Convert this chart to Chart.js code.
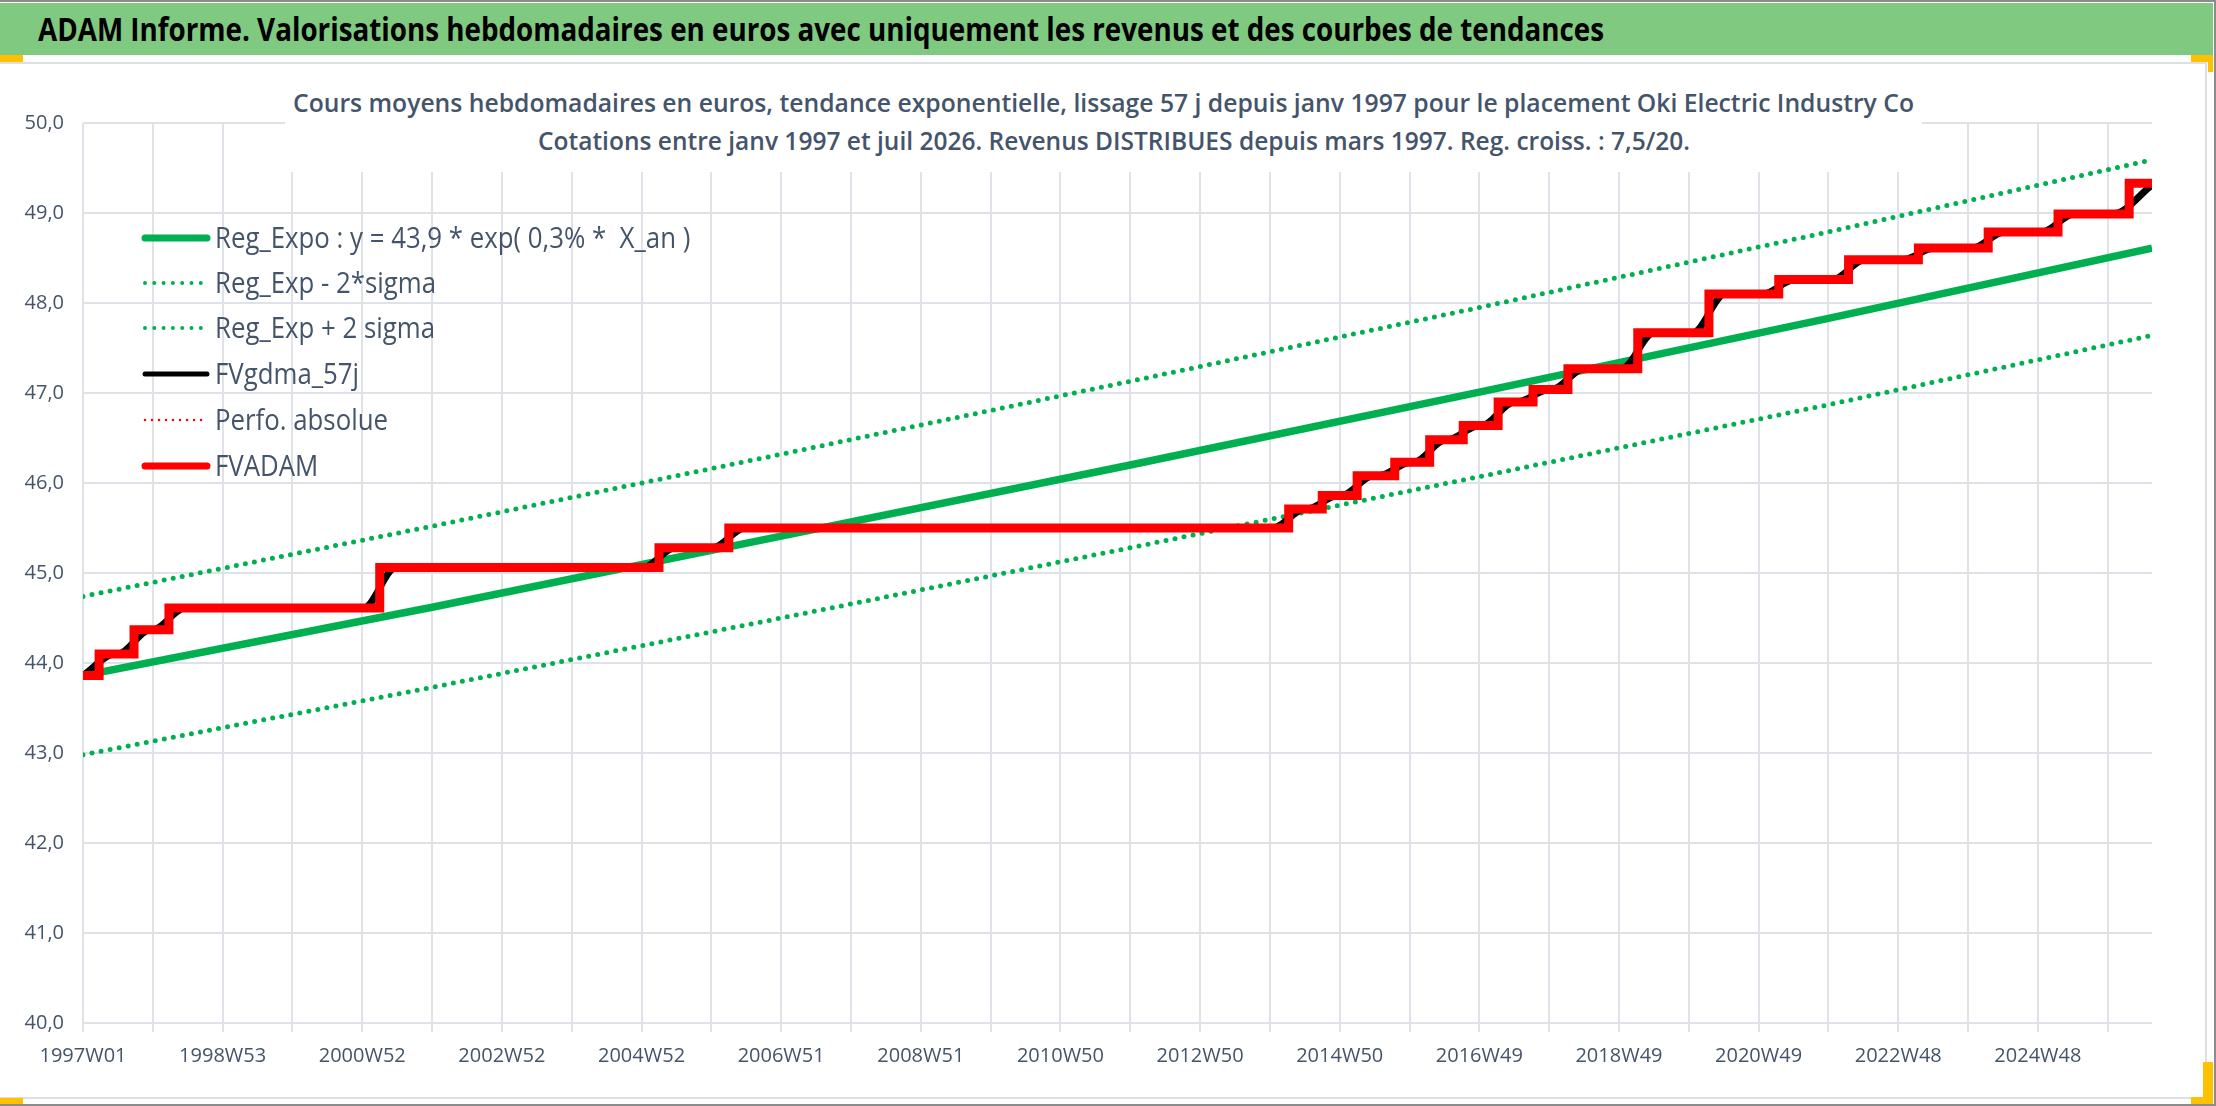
<!DOCTYPE html>
<html lang="fr">
<head>
<meta charset="utf-8">
<title>ADAM Informe - Oki Electric Industry Co</title>
<script src="https://cdn.jsdelivr.net/npm/chart.js@4.4.1/dist/chart.umd.min.js"></script>
<style>
  html, body { margin: 0; padding: 0; background: #fff; }
  #page { position: relative; width: 2216px; height: 1106px; overflow: hidden; background: #fff;
          font-family: 'Open Sans', sans-serif; }
  .frame { position: absolute; background: #8c8c8c; }
  .yel { position: absolute; background: #ffc000; }
  #header { position: absolute; left: 0; top: 3px; width: 2213px; height: 52px; background: #80c980; }
  #box { position: absolute; left: -2px; top: 62px; width: 2205px; height: 1033px;
         border: 2px solid #dcdfe4; }
  #chart { position: absolute; left: 0; top: 64px; }
  #subBox { position: absolute; left: 285px; top: 80px; width: 1637px; height: 92px; background: #fff; }
  .fit { position: absolute; white-space: nowrap; transform-origin: 0 50%; line-height: 1; }
  .head { font-weight: bold; font-size: 32px; color: #000; }
  .sub { font-weight: 600; font-size: 25px; color: #44546a; }
</style>
</head>
<body>
<div id="page">
  <div class="frame" style="left:0;top:0;width:2216px;height:2px"></div>
  <div class="frame" style="left:0;top:1104px;width:2216px;height:2px"></div>
  <div class="frame" style="left:2214px;top:0;width:2px;height:1106px"></div>
  <div id="header"></div>
  <div class="fit head" data-x0="38" data-x1="1604" data-y="29">ADAM Informe. Valorisations hebdomadaires en euros avec uniquement les revenus et des courbes de tendances</div>
  <div id="box"></div>
  <canvas id="chart" width="2203" height="1031"></canvas>
  <div id="subBox"></div>
  <div class="fit sub" data-x0="293" data-x1="1914" data-y="102">Cours moyens hebdomadaires en euros, tendance exponentielle, lissage 57 j depuis janv 1997 pour le placement Oki Electric Industry Co</div>
  <div class="fit sub" data-x0="538" data-x1="1690" data-y="140">Cotations entre janv 1997 et juil 2026. Revenus DISTRIBUES depuis mars 1997. Reg. croiss. : 7,5/20.</div>
  <div class="yel" style="left:0;top:55px;width:23px;height:7px"></div>
  <div class="yel" style="left:0;top:1098px;width:23px;height:6px"></div>
  <div class="yel" style="left:2191px;top:55px;width:22px;height:7px"></div>
  <div class="yel" style="left:2208px;top:62px;width:5px;height:10px"></div>
  <div class="yel" style="left:2203px;top:1062px;width:10px;height:36px"></div>
  <div class="yel" style="left:2191px;top:1097px;width:22px;height:7px"></div>
</div>
<script>
// semaines affichees sur l'axe (une etiquette toutes les 104 semaines)
const tickLabels = ['1997W01', '1998W53', '2000W52', '2002W52', '2004W52', '2006W51', '2008W51',
  '2010W50', '2012W50', '2014W50', '2016W49', '2018W49', '2020W49', '2022W48', '2024W48'];
const lastWeek = 1541;

// courbes de tendance (index de semaine depuis 1997W01)
const trendWeek = [0, 260, 520, 780, 1040, 1300, 1541];
const regExpo   = [43.86, 44.62, 45.41, 46.20, 47.01, 47.83, 48.61];
const regLower  = [42.98, 43.73, 44.50, 45.28, 46.07, 46.87, 47.64];
const regUpper  = [44.74, 45.52, 46.32, 47.13, 47.95, 48.79, 49.59];

// FVADAM : marches (semaine du saut, nouvelle valeur)
const stepWeek = [0, 12, 38, 64, 221, 429, 481, 898, 923, 949, 977, 1003, 1028, 1054,
  1080, 1106, 1158, 1211, 1263, 1315, 1367, 1419, 1471, 1524, 1541];
const fvAdam = [43.86, 44.10, 44.37, 44.61, 45.06, 45.28, 45.50, 45.71, 45.86, 46.08, 46.23, 46.48,
  46.64, 46.90, 47.04, 47.27, 47.67, 48.10, 48.26, 48.48, 48.61, 48.79, 48.99, 49.33, 49.33];

// FVgdma_57j : moyenne lissee autour de chaque marche
const smoothWeek = [0, 24, 26, 50, 52, 76, 209, 233, 417, 441, 469, 493, 886, 910, 911, 935,
  937, 961, 965, 989, 991, 1015, 1016, 1040, 1042, 1066, 1068, 1092, 1094, 1118, 1146, 1170,
  1199, 1223, 1251, 1275, 1303, 1327, 1355, 1379, 1407, 1431, 1459, 1483, 1512, 1541];
const fvGdma = [43.86, 44.10, 44.10, 44.37, 44.37, 44.61, 44.61, 45.06, 45.06, 45.28, 45.28, 45.50,
  45.50, 45.71, 45.71, 45.86, 45.86, 46.08, 46.08, 46.23, 46.23, 46.48, 46.48, 46.64, 46.64, 46.90,
  46.90, 47.04, 47.04, 47.27, 47.27, 47.67, 47.67, 48.10, 48.10, 48.26, 48.26, 48.48, 48.48, 48.61,
  48.61, 48.79, 48.79, 48.99, 48.99, 49.31];

const GREEN = '#00b050';
const RED = '#ff0000';
const GRID = '#dfe2e8';
const TXT = '#44546a';
const FONT = "'Open Sans', sans-serif";

let pts = (xs, ys) => xs.map((x, i) => ({ x: x, y: ys[i] }));

let gridWeeks = [];
tickLabels.forEach((lab, k) => { gridWeeks.push(k * 104, k * 104 + 52); });

// ajuste la largeur des titres HTML
document.querySelectorAll('.fit').forEach(function (el) {
  let x0 = +el.dataset.x0, x1 = +el.dataset.x1, yc = +el.dataset.y;
  let w = el.getBoundingClientRect().width;
  el.style.left = x0 + 'px';
  el.style.top = (yc - el.offsetHeight / 2) + 'px';
  el.style.transform = 'scaleX(' + ((x1 - x0) / w) + ')';
});

// legende dans le coin haut gauche du graphique
const legendRows = [174, 219, 264, 310, 356, 402];
const legendWidth = [7, 4, 4, 5, 2.5, 7];
const legendDash = [[], [0, 9.3], [0, 9.3], [], [0, 7], []];

const cornerLegend = {
  id: 'cornerLegend',
  afterDraw(chart) {
    let ctx = chart.ctx;
    chart.data.datasets.forEach(function (ds, i) {
      let y = legendRows[i];
      ctx.save();
      ctx.strokeStyle = ds.borderColor;
      ctx.lineWidth = legendWidth[i];
      ctx.lineCap = 'round';
      ctx.setLineDash(legendDash[i]);
      ctx.beginPath();
      ctx.moveTo(145, y);
      ctx.lineTo(207, y);
      ctx.stroke();
      ctx.restore();

      ctx.save();
      ctx.fillStyle = TXT;
      ctx.font = '30px ' + FONT;
      ctx.textBaseline = 'middle';
      ctx.translate(215, y + 1);
      ctx.scale(0.86, 1);
      ctx.fillText(ds.label, 0, 0);
      ctx.restore();
    });
  }
};

new Chart(document.getElementById('chart'), {
  type: 'line',
  data: {
    datasets: [
      { label: 'Reg_Expo : y = 43,9 * exp( 0,3% *  X_an )', data: pts(trendWeek, regExpo),
        borderColor: GREEN, borderWidth: 7.5, order: 3 },
      { label: 'Reg_Exp - 2*sigma', data: pts(trendWeek, regLower),
        borderColor: GREEN, borderWidth: 5, borderDash: [0, 9.2], borderCapStyle: 'round', order: 4 },
      { label: 'Reg_Exp + 2 sigma', data: pts(trendWeek, regUpper),
        borderColor: GREEN, borderWidth: 5, borderDash: [0, 9.2], borderCapStyle: 'round', order: 5 },
      { label: 'FVgdma_57j', data: pts(smoothWeek, fvGdma),
        borderColor: '#000000', borderWidth: 7, cubicInterpolationMode: 'monotone', order: 2 },
      { label: 'Perfo. absolue', data: pts(stepWeek, fvAdam),
        borderColor: RED, borderWidth: 2.5, borderDash: [0, 7], borderCapStyle: 'round',
        stepped: 'before', order: 1 },
      { label: 'FVADAM', data: pts(stepWeek, fvAdam),
        borderColor: RED, borderWidth: 9, stepped: 'before', order: 0 }
    ]
  },
  options: {
    responsive: false,
    animation: false,
    devicePixelRatio: 1,
    layout: { padding: { top: 59, right: 51, left: 0, bottom: 0 } },
    elements: { point: { radius: 0 }, line: { fill: false, tension: 0 } },
    plugins: { legend: { display: false }, title: { display: false }, tooltip: { enabled: false } },
    scales: {
      x: {
        type: 'linear', min: 0, max: lastWeek,
        afterBuildTicks: function (axis) { axis.ticks = gridWeeks.map(v => ({ value: v })); },
        afterFit: function (s) { s.height = 72; },
        grid: { color: GRID, lineWidth: 2, drawTicks: true, tickLength: 9 },
        border: { display: false },
        ticks: {
          autoSkip: false, maxRotation: 0, padding: 12, color: TXT,
          font: { family: FONT, size: 20 },
          callback: function (v) { return v % 104 === 0 ? tickLabels[v / 104] : ''; }
        }
      },
      y: {
        min: 40, max: 50,
        afterFit: function (s) { s.width = 83; },
        grid: { color: GRID, lineWidth: 2, drawTicks: false },
        border: { display: false },
        ticks: {
          stepSize: 1, padding: 19, color: TXT,
          font: { family: FONT, size: 20 },
          callback: function (v) { return v.toFixed(1).replace('.', ','); }
        }
      }
    }
  },
  plugins: [cornerLegend]
});
</script>
</body>
</html>
